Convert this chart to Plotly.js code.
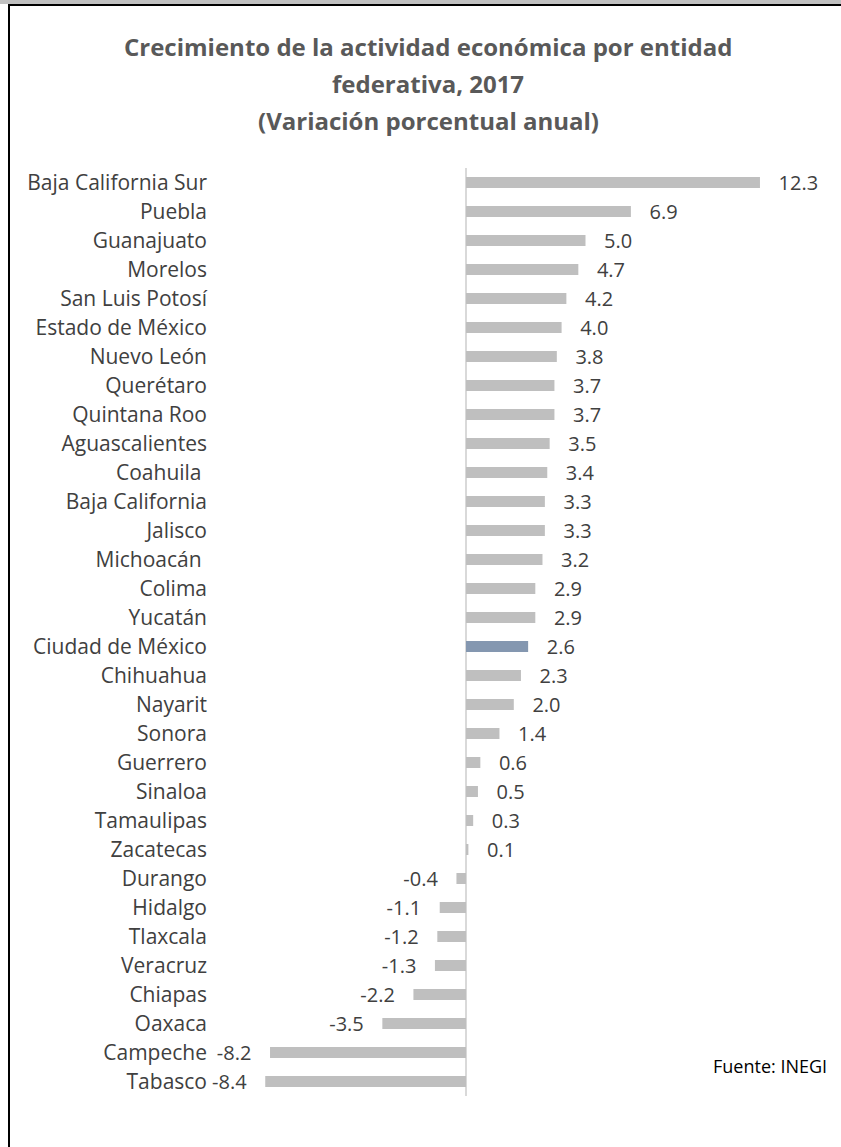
<!DOCTYPE html>
<html>
<head>
<meta charset="utf-8">
<script src="https://cdn.plot.ly/plotly-3.0.1.min.js"></script>
<style>
html,body{margin:0;padding:0;background:#fff;}
#chart{width:841px;height:1147px;}
</style>
</head>
<body>
<div id="chart"></div>
<script>
const states = ["Baja California Sur","Puebla","Guanajuato","Morelos","San Luis Potosí","Estado de México","Nuevo León","Querétaro","Quintana Roo","Aguascalientes","Coahuila\u00a0","Baja California","Jalisco","Michoacán\u00a0","Colima","Yucatán","Ciudad de México","Chihuahua","Nayarit","Sonora","Guerrero","Sinaloa","Tamaulipas","Zacatecas","Durango","Hidalgo","Tlaxcala","Veracruz","Chiapas","Oaxaca","Campeche","Tabasco"];
const growth = [12.3,6.9,5.0,4.7,4.2,4.0,3.8,3.7,3.7,3.5,3.4,3.3,3.3,3.2,2.9,2.9,2.6,2.3,2.0,1.4,0.6,0.5,0.3,0.1,-0.4,-1.1,-1.2,-1.3,-2.2,-3.5,-8.2,-8.4];
const highlight = "Ciudad de México";
const titleLines = ["Crecimiento de la actividad económica por entidad", "federativa, 2017", "(Variación porcentual anual)"];
const sourceText = "Fuente: INEGI";

const W = 841, H = 1147;
const M = {l: 212, r: 0, t: 168, b: 51};
const pw = W - M.l - M.r, ph = H - M.t - M.b;
const px = v => (v - M.l) / pw;
const py = v => (H - M.b - v) / ph;
const FONT = 'Open Sans, sans-serif';

const sp = '\u00a0\u00a0\u00a0';
const labels = growth.map(v => v >= 0 ? sp + v.toFixed(1) : v.toFixed(1) + sp);
const colors = states.map(s => s === highlight ? '#8497b0' : '#bfbfbf');

const trace = {
  type: 'bar',
  orientation: 'h',
  y: states,
  x: growth,
  width: 0.38,
  marker: {color: colors},
  text: labels,
  textposition: 'outside',
  constraintext: 'none',
  cliponaxis: false,
  textfont: {family: FONT, size: 20, color: '#404040'},
  hoverinfo: 'none'
};

const titleY = [46, 83, 120];
const annotations = titleLines.map((t, i) => ({
  text: '<b>' + t + '</b>', xref: 'paper', yref: 'paper',
  x: px(428), y: py(titleY[i]), xanchor: 'center', yanchor: 'middle',
  showarrow: false,
  font: {family: FONT, size: 24, color: '#595959'}
}));
annotations.push({
  text: sourceText, xref: 'paper', yref: 'paper',
  x: px(829), y: py(1066), xanchor: 'right', yanchor: 'middle',
  showarrow: false,
  font: {family: FONT, size: 18, color: '#000000'}
});

const layout = {
  width: W, height: H,
  margin: M,
  paper_bgcolor: '#ffffff',
  plot_bgcolor: '#ffffff',
  showlegend: false,
  xaxis: {
    range: [(M.l - 466) / 23.9, (W - M.r - 466) / 23.9],
    showgrid: false, showticklabels: false, ticks: '',
    zeroline: true, zerolinecolor: '#d9d9d9', zerolinewidth: 2,
    showline: false, fixedrange: true
  },
  yaxis: {
    autorange: 'reversed',
    showgrid: false, ticks: '', showline: false, zeroline: false,
    tickfont: {family: FONT, size: 21, color: '#404040'},
    ticklabelstandoff: 4,
    fixedrange: true
  },
  annotations: annotations,
  shapes: [
    {type: 'rect', xref: 'paper', yref: 'paper', x0: px(0), x1: px(W), y0: py(4), y1: py(0), fillcolor: '#c0c0c0', line: {width: 0}, layer: 'above'},
    {type: 'line', xref: 'paper', yref: 'paper', x0: px(8), x1: px(W), y0: py(5), y1: py(5), line: {color: '#000000', width: 2}},
    {type: 'line', xref: 'paper', yref: 'paper', x0: px(9), x1: px(9), y0: py(5), y1: py(H), line: {color: '#000000', width: 2}}
  ]
};

Plotly.newPlot('chart', [trace], layout, {staticPlot: true, displayModeBar: false});
</script>
</body>
</html>
